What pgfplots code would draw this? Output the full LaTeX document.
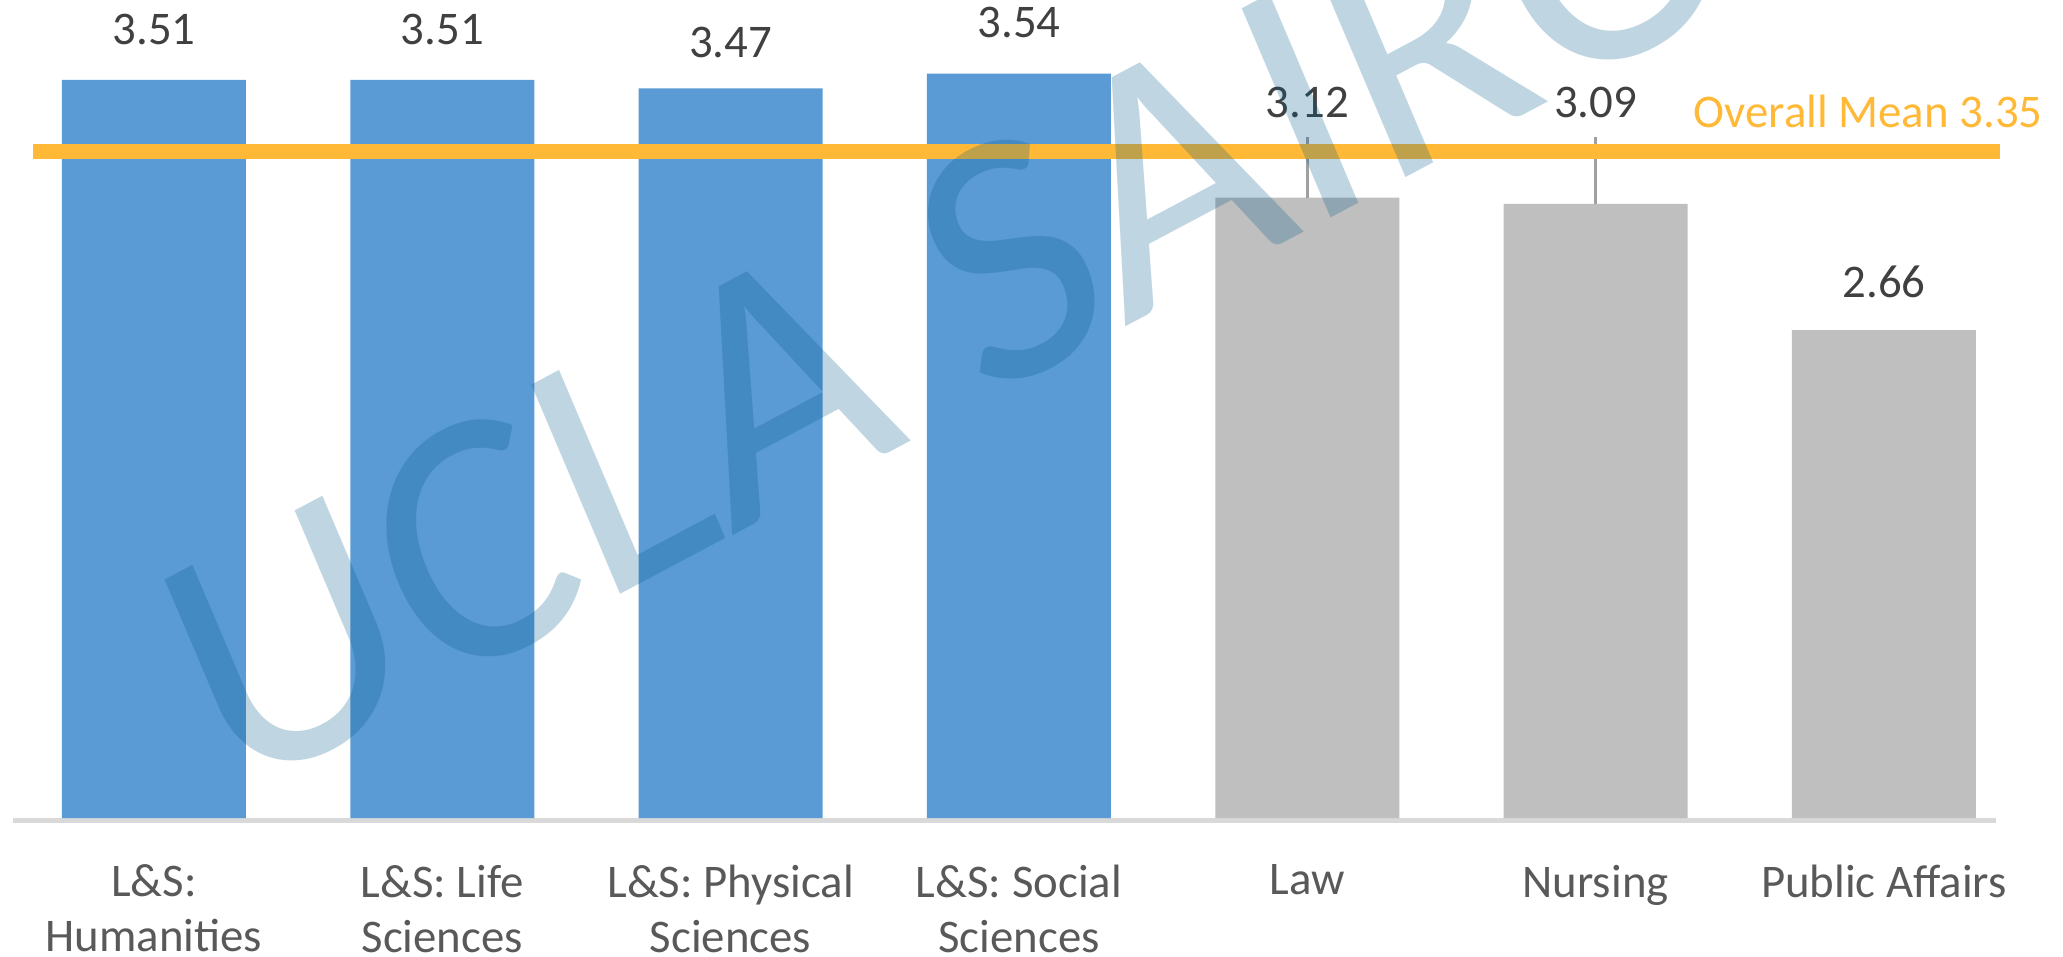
\documentclass[border=0pt]{standalone}
\usepackage{fontspec}
\setmainfont{Carlito}
\usepackage{pgfplots}
\pgfplotsset{compat=1.18}

\definecolor{barblue}{HTML}{5B9BD5}
\definecolor{bargray}{HTML}{BFBFBF}
\definecolor{meanorange}{HTML}{FFB936}
\definecolor{labeltext}{HTML}{404040}
\definecolor{ticktext}{HTML}{595959}
\definecolor{axisgray}{HTML}{D9D9D9}
\definecolor{errgray}{HTML}{A0A0A0}
\definecolor{wmark}{RGB}{0,88,140}

\newcommand{\lblfont}{\fontsize{11.7pt}{13.75pt}\selectfont}

\begin{document}
\begin{tikzpicture}
\begin{axis}[
    scale only axis,
    width=515.75pt,
    height=204.5pt,
    xmin=-0.534, xmax=6.621,
    ymin=0, ymax=3.8897,
    clip=false,
    axis line style={draw=none},
    major tick length=0pt,
    ytick=\empty,
    xtick={0,...,6},
    xticklabels={{L\&S:\\Humanities},{L\&S: Life\\Sciences},{L\&S: Physical\\Sciences},{L\&S: Social\\Sciences},Law,Nursing,Public Affairs},
    xticklabel style={align=center, font=\lblfont, text=ticktext, anchor=north, inner sep=0pt, yshift=-11.5pt},
]
% axis base line
\addplot[axisgray, line width=1.25pt, mark=none] coordinates {(-0.489,-0.012) (6.389,-0.012)};

% L&S colleges
\addplot[ybar, bar width=46pt, bar shift=0pt, fill=barblue, draw=none]
    coordinates {(0,3.51) (1,3.51) (2,3.47) (3,3.54)};

% professional schools (bars as drawn, with error bars)
\addplot[ybar, bar width=46pt, bar shift=0pt, fill=bargray, draw=none,
    error bars/.cd, y dir=plus, y explicit, error mark=none,
    error bar style={errgray, line width=0.6pt}]
    coordinates {(4,2.95) +- (0,0.29) (5,2.92) +- (0,0.32) (6,2.32) +- (0,0)};

% overall mean
\addplot[meanorange, line width=3.75pt, mark=none] coordinates {(-0.42,3.169) (6.402,3.169)};

% value labels
\addplot[draw=none, mark=none, nodes near coords, point meta=explicit symbolic,
    every node near coord/.append style={font=\lblfont, text=labeltext, inner sep=0pt, anchor=base}]
    table[meta=lab, row sep=\\] {
    x y lab\\
    0 3.676 3.51\\
    1 3.676 3.51\\
    2 3.614 3.47\\
    3 3.709 3.54\\
    4 3.333 3.12\\
    5 3.333 3.09\\
    6 2.477 2.66\\
    };

\node[anchor=base west, inner sep=0pt, font=\lblfont, text=meanorange] at (axis cs:5.338,3.281) {Overall Mean 3.35};

\coordinate (wm) at (axis cs:0.27,0.08);
\coordinate (bbl) at (axis cs:-0.534,-0.6562);
\coordinate (btr) at (axis cs:6.621,3.8897);
\end{axis}

% watermark
\begin{scope}[shift={(wm)}, cm={0.883,0.469,-0.391,0.921,(0,0)}]
\node[transform shape, anchor=base west, inner sep=0pt, text=wmark, opacity=0.25,
    font=\fontsize{88.5pt}{100pt}\selectfont] at (0,0) {UCLA SAIRO};
\end{scope}

\pgfresetboundingbox
\useasboundingbox (bbl) rectangle (btr);
\end{tikzpicture}
\end{document}
